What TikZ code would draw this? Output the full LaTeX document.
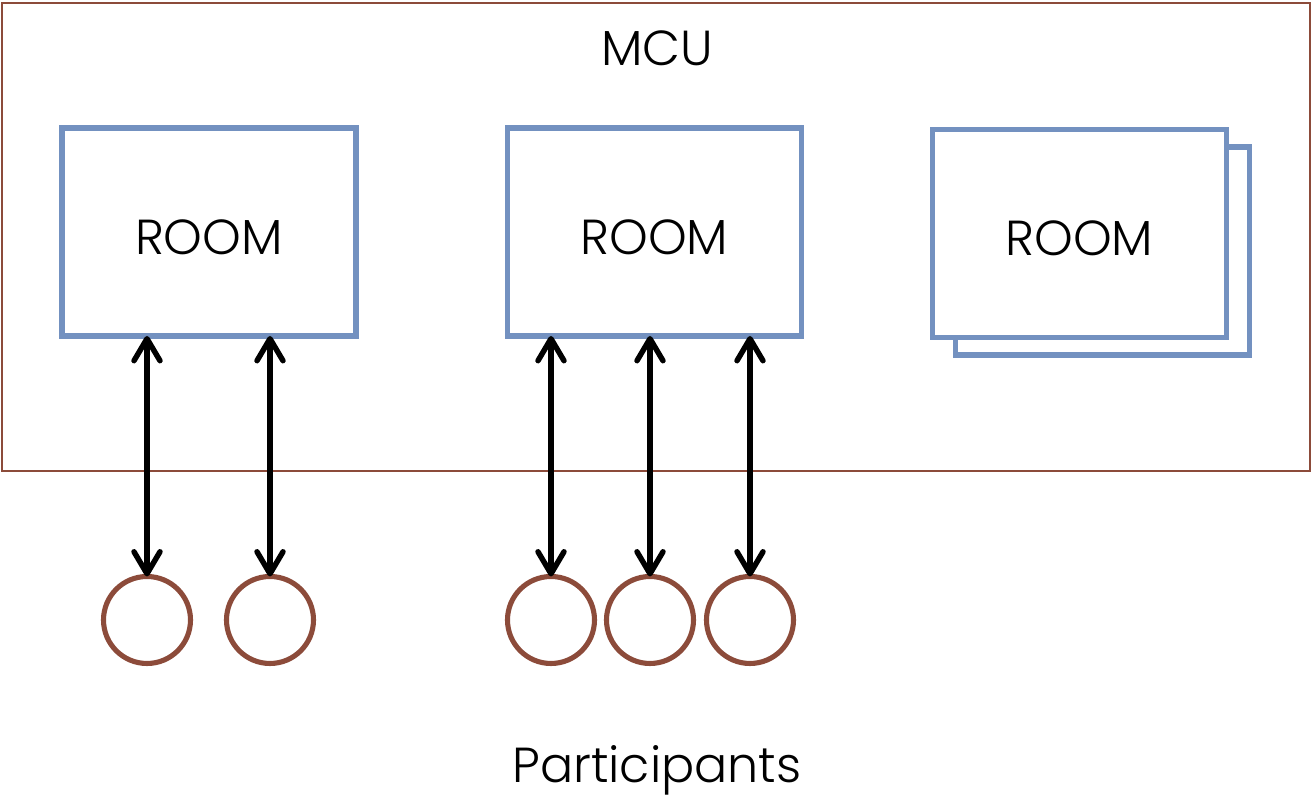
\documentclass[tikz,border=0pt]{standalone}
\usepackage{fontspec}
\setmainfont{Poppins}[UprightFont=* Light]
\usetikzlibrary{arrows.meta}
\definecolor{mcubrown}{RGB}{140,75,58}
\definecolor{roomblue}{RGB}{115,145,192}
\tikzset{
  roombox/.style={draw=roomblue, line width=1.45pt, fill=white, minimum width=2.94cm, minimum height=2.08cm, inner sep=0pt, outer sep=0pt},
  roomtext/.style={font=\fontsize{14}{16}\selectfont, inner sep=0pt},
  participant/.style={circle, draw=mcubrown, line width=1.45pt, minimum size=0.87cm, inner sep=0pt, outer sep=0pt},
  link/.style={line width=1.55pt, line cap=round, {Straight Barb[length=2.2mm,width=2.6mm,round]}-{Straight Barb[length=2.2mm,width=2.6mm,round]}},
  label/.style={font=\fontsize{14}{16}\selectfont, inner sep=0pt}
}
\begin{document}
\begin{tikzpicture}[x=1cm,y=1cm]
\useasboundingbox (0,0) rectangle (13.12,-7.95);
\node[draw=mcubrown, line width=0.6pt, minimum width=13.08cm, minimum height=4.68cm, inner sep=0pt] (mcu) at (6.56,-2.37) {};
\node[label] (mcutext) at (6.57,-0.48) {MCU};
\node[roombox] (r1) at (2.09,-2.32) {};
\node[roombox] (r2) at (6.545,-2.32) {};
\node[roombox] (r3b) at (11.025,-2.51) {};
\node[roombox] (r3) at (10.795,-2.335) {};
\node[roomtext] (t1) at ([yshift=-0.05cm]r1.center) {ROOM};
\node[roomtext] (t2) at ([yshift=-0.05cm]r2.center) {ROOM};
\node[roomtext] (t3) at ([yshift=-0.05cm]r3.center) {ROOM};
\node[participant] (p1) at (1.47,-6.20) {};
\node[participant] (p2) at (2.70,-6.20) {};
\node[participant] (p3) at (5.51,-6.20) {};
\node[participant] (p4) at (6.50,-6.20) {};
\node[participant] (p5) at (7.50,-6.20) {};
\draw[link] (p1 |- r1.south) -- (p1.north);
\draw[link] (p2 |- r1.south) -- (p2.north);
\draw[link] (p3 |- r2.south) -- (p3.north);
\draw[link] (p4 |- r2.south) -- (p4.north);
\draw[link] (p5 |- r2.south) -- (p5.north);
\node[label] (parts) at (6.57,-7.70) {Participants};
\end{tikzpicture}
\end{document}
